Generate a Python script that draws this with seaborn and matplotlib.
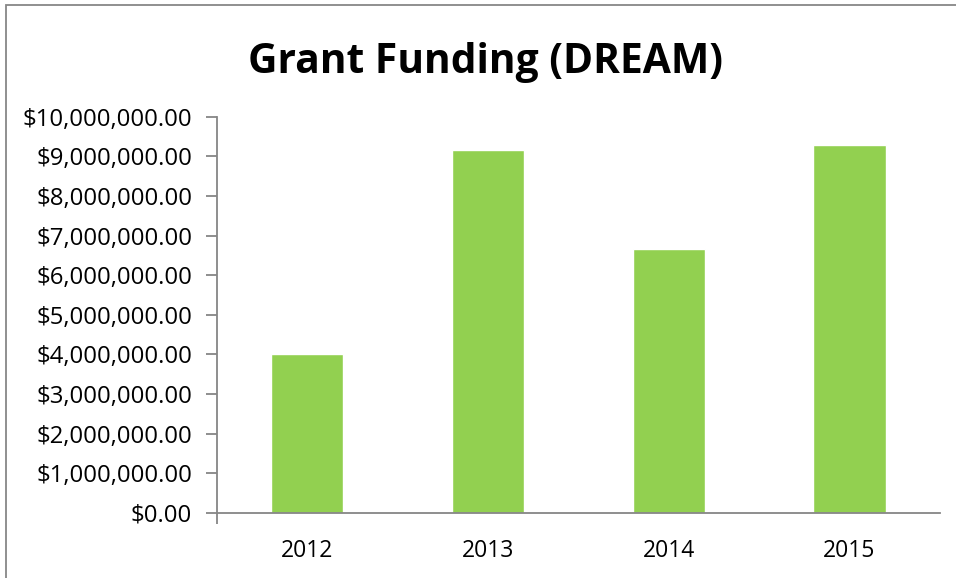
import matplotlib
matplotlib.use("Agg")
import matplotlib.pyplot as plt
import matplotlib.patches as mpatches
from matplotlib.ticker import FuncFormatter, FixedLocator
import seaborn as sns
import pandas as pd

years = ["2012", "2013", "2014", "2015"]
funding = [4000000, 9150000, 6670000, 9290000]

sns.set_theme(style="white")
plt.rcParams["font.family"] = ["Open Sans", "DejaVu Sans"]

df = pd.DataFrame({"Year": years, "Funding": funding})

fig = plt.figure(figsize=(9.56, 5.78), dpi=100)
ax = fig.add_axes([0.227, 0.1125, 0.756, 0.6855])

sns.barplot(data=df, x="Year", y="Funding", color="#92D050", saturation=1,
            width=0.4, ax=ax)

axis_gray = "#868686"
ax.set_ylim(0, 10000000)
ax.set_xlim(-0.5, 3.5)
ax.yaxis.set_major_locator(FixedLocator([i * 1000000 for i in range(11)]))
ax.yaxis.set_major_formatter(FuncFormatter(lambda v, _: f"${v:,.2f}"))
ax.set_xlabel("")
ax.set_ylabel("")

for side in ("top", "right"):
    ax.spines[side].set_visible(False)
for side in ("left", "bottom"):
    ax.spines[side].set_color(axis_gray)
    ax.spines[side].set_linewidth(1.3)

ax.tick_params(axis="y", which="major", direction="out", length=8, width=1.3,
               color=axis_gray, labelsize=17.2, labelcolor="black", pad=10, left=True)
ax.tick_params(axis="x", which="major", length=0, labelsize=16.5,
               labelcolor="black", pad=19)
ax.set_xticks([-0.5], minor=True)
ax.tick_params(axis="x", which="minor", direction="out", length=8, width=1.3,
               color=axis_gray, bottom=True)

fig.text(0.508, 0.892, "Grant Funding (DREAM)", ha="center", va="center",
         fontsize=29.3, fontweight="bold", color="black")

# chart-area border
fig.patches.append(mpatches.Rectangle((6 / 956, -0.1), 1.2, 1.1 - 5 / 578,
                                      transform=fig.transFigure, fill=False,
                                      edgecolor="#878787", linewidth=1.3))

fig.savefig("out.png", dpi=100)
